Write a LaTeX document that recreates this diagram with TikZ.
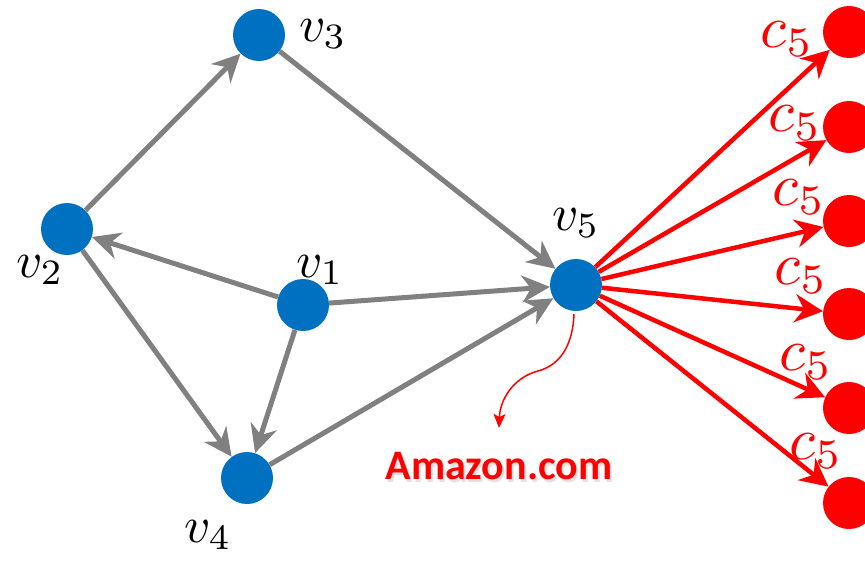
\documentclass[tikz,border=0pt]{standalone}
\usepackage{fontspec}
\newfontfamily\amzfont{Carlito}
\usetikzlibrary{arrows.meta}

\definecolor{nodeblue}{RGB}{0,112,192}

\begin{document}
\begin{tikzpicture}[
    x=1pt, y=-1pt,
    vtx/.style={circle, fill=nodeblue, minimum size=52pt, inner sep=0pt},
    cvtx/.style={circle, fill=red, minimum size=52pt, inner sep=0pt},
    gedge/.style={draw=gray, line width=5pt, -{Stealth[length=28pt, width=27pt, inset=9pt]}},
    redge/.style={draw=red, line width=4.5pt, -{Stealth[length=28pt, width=28pt, inset=9pt]}},
    vlab/.style={inner sep=0pt, scale=5.1},
    clab/.style={inner sep=0pt, text=red, scale=6.0},
    amz/.style={font=\amzfont\bfseries\fontsize{42}{46}\selectfont}
]
    \useasboundingbox (0,0) rectangle (865,560);

    % graph nodes
    \node[vtx] (v1) at (303,305) {};
    \node[vtx] (v2) at (67,229) {};
    \node[vtx] (v3) at (259,35) {};
    \node[vtx] (v4) at (247,478) {};
    \node[vtx] (v5) at (576,285) {};

    \node[vlab] (t1) at (320,270) {$v_1$};
    \node[vlab] (t2) at (40,270) {$v_2$};
    \node[vlab] (t3) at (323,34) {$v_3$};
    \node[vlab] (t4) at (208,535) {$v_4$};
    \node[vlab] (t5) at (576,223) {$v_5$};

    % edges
    \draw[gedge] (v2) -- (v3);
    \draw[gedge] (v3) -- (v5);
    \draw[gedge] (v1) -- (v2);
    \draw[gedge] (v1) -- (v5);
    \draw[gedge] (v1) -- (v4);
    \draw[gedge] (v2) -- (v4);
    \draw[gedge] (v4) -- (v5);

    % copies of v5
    \foreach \i/\y/\lx/\ly in {1/32/787/39, 2/127/795/123, 3/221/799/197,
                               4/314/801/276, 5/408/806/362, 6/503/816/451} {
        \node[cvtx] (c\i) at (849,\y) {};
        \node[clab] (s\i) at (\lx,\ly) {$c_5$};
        \draw[redge] (v5) -- (c\i);
    }

    % amazon label
    \coordinate (a0) at (574,314);
    \coordinate (a1) at (499,428);
    \draw[red, line width=1.5pt, -{Stealth[length=14pt, width=12pt, inset=3pt]}]
        (a0) to[out=-92, in=15] (538,371) to[out=195, in=88] (a1);
    \node[amz, text=gray!22] (shd) at (501,469) {Amazon.com};
    \node[amz, text=red] (amzlab) at (499,466) {Amazon.com};

\end{tikzpicture}
\end{document}
